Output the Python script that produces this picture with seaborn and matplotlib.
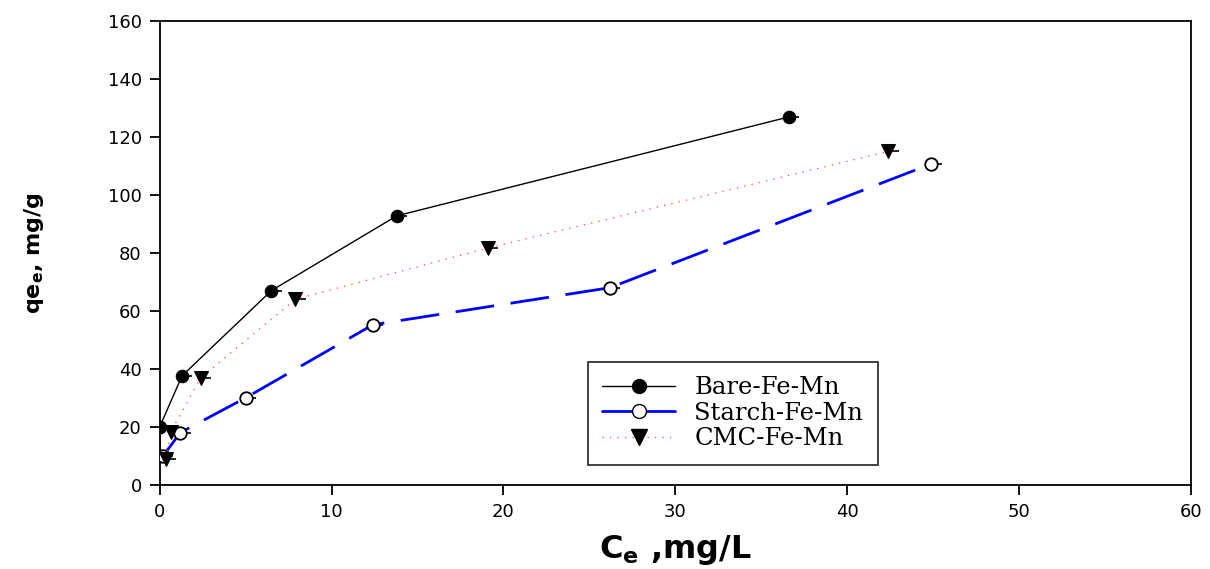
import matplotlib
matplotlib.use("Agg")
import matplotlib.pyplot as plt
import seaborn as sns
import pandas as pd
from matplotlib.lines import Line2D

bare_x = [0.05, 0.0, 1.3, 6.5, 13.8, 36.6]
bare_y = [10, 20, 37.6, 67, 92.8, 126.9]
starch_x = [0.2, 1.2, 5.0, 12.4, 26.2, 44.9]
starch_y = [10, 18, 30, 55.2, 68, 110.7]
cmc_x = [0.35, 0.64, 2.4, 7.9, 19.1, 42.4]
cmc_y = [9, 18.3, 37, 64, 81.7, 115]
labels = ["Bare-Fe-Mn", "Starch-Fe-Mn", "CMC-Fe-Mn"]

sns.set_theme(style="ticks")
plt.rcParams['font.family'] = ['DejaVu Sans']
plt.rcParams['text.color'] = 'black'
plt.rcParams['axes.labelcolor'] = 'black'

fig = plt.figure(figsize=(12.1, 5.69), dpi=100)
ax = fig.add_axes([0.132, 0.148, 0.852, 0.815])

df_b = pd.DataFrame({"x": bare_x, "y": bare_y})
df_s = pd.DataFrame({"x": starch_x, "y": starch_y})
df_c = pd.DataFrame({"x": cmc_x, "y": cmc_y})

# small right-side whiskers (error bars)
for xs, ys in [(bare_x, bare_y), (starch_x, starch_y), (cmc_x, cmc_y)]:
    ax.errorbar(xs, ys, xerr=[[0] * len(xs), [0.6] * len(xs)], fmt="none",
                ecolor="black", elinewidth=1.2, capsize=0, zorder=1)

sns.lineplot(data=df_b, x="x", y="y", ax=ax, estimator=None, sort=False,
             color="black", lw=1.0, marker="o", markersize=9,
             markerfacecolor="black", markeredgecolor="black", zorder=3)
sns.lineplot(data=df_s, x="x", y="y", ax=ax, estimator=None, sort=False,
             color="blue", lw=2.0, marker="o", markersize=9,
             markerfacecolor="white", markeredgecolor="black", markeredgewidth=1.3, zorder=3)
ax.lines[-1].set_dashes([14, 6])
sns.lineplot(data=df_c, x="x", y="y", ax=ax, estimator=None, sort=False,
             color="#ff4040", lw=0.9, marker="v", markersize=10,
             markerfacecolor="black", markeredgecolor="black", zorder=3)
ax.lines[-1].set_dashes([1, 5])

ax.set_xlim(0, 60)
ax.set_ylim(0, 160)
ax.set_xticks(range(0, 61, 10))
ax.set_yticks(range(0, 161, 20))
ax.tick_params(axis="both", labelsize=13, direction="out", length=7, width=1.3,
               colors="black", pad=6)
for s in ["top", "right", "left", "bottom"]:
    ax.spines[s].set_visible(True)
    ax.spines[s].set_color("black")
    ax.spines[s].set_linewidth(1.3)

ax.set_xlabel(r"$\mathbf{C_e}$ ,mg/L", fontsize=23, fontweight="bold", labelpad=9)
ax.set_ylabel(r"qe$_\mathbf{e}$, mg/g", fontsize=16, fontweight="bold", labelpad=44)

handles = [
    Line2D([], [], color="black", lw=1.0, marker="o", markersize=10, markerfacecolor="black", markeredgecolor="black"),
    Line2D([], [], color="blue", lw=2.0, marker="o", markersize=10, markerfacecolor="white", markeredgecolor="black"),
    Line2D([], [], color="#ff4040", lw=0.9, dashes=[1, 5], marker="v", markersize=11, markerfacecolor="black", markeredgecolor="black"),
]
leg = ax.legend(handles, labels, loc="upper left", bbox_to_anchor=(0.415, 0.265),
                borderaxespad=0,
                prop={"family": "DejaVu Serif", "size": 17.5}, frameon=True, fancybox=False,
                edgecolor="black", handlelength=3.0, handletextpad=0.8, borderpad=0.6,
                labelspacing=0.1)
leg.get_frame().set_linewidth(1.3)

fig.savefig("out.png", dpi=100)
